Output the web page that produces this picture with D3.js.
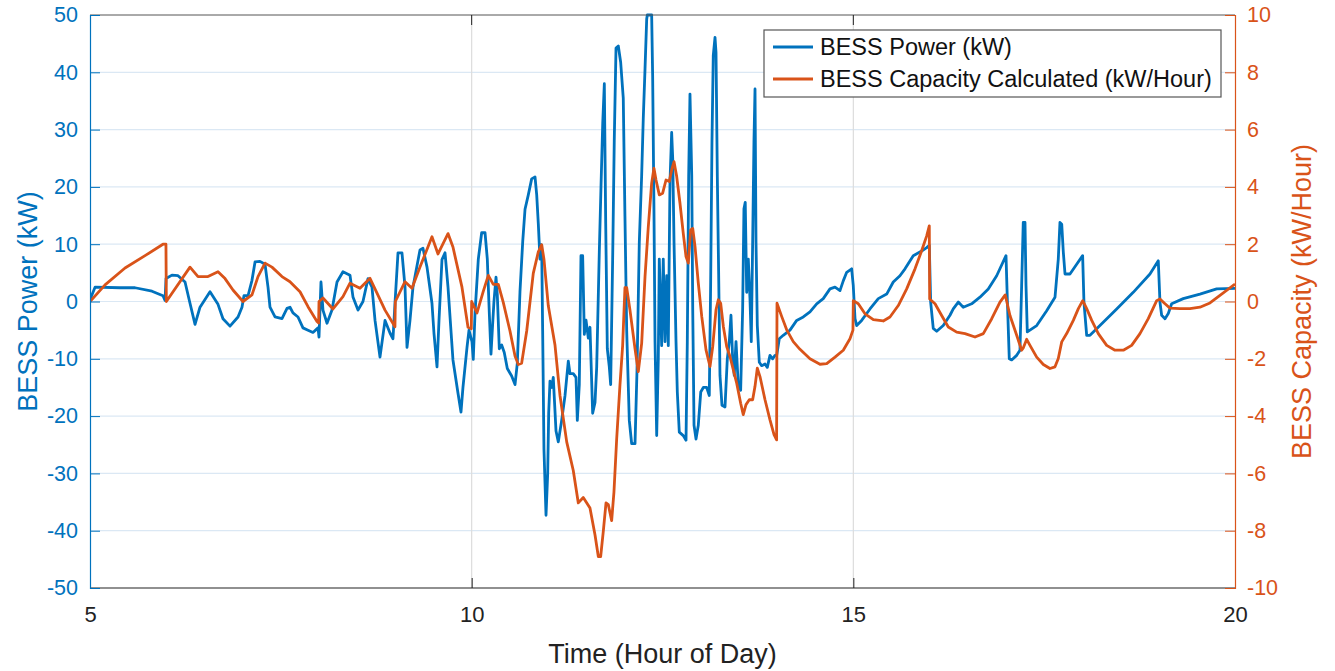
<!DOCTYPE html>
<html>
<head>
<meta charset="utf-8">
<script src="https://cdn.jsdelivr.net/npm/d3@7/dist/d3.min.js"></script>
<style>
  html, body { margin: 0; padding: 0; background: #fff; }
  svg { display: block; font-family: "Liberation Sans", Arial, Helvetica, sans-serif; }
</style>
</head>
<body>
<svg id="chart" width="1335" height="671"></svg>
<script>
// ---- Data ----
const xTicks = [5, 10, 15, 20];
const leftTicks = [-50, -40, -30, -20, -10, 0, 10, 20, 30, 40, 50];
const rightTicks = [-10, -8, -6, -4, -2, 0, 2, 4, 6, 8, 10];
const seriesNames = ["BESS Power (kW)", "BESS Capacity Calculated (kW/Hour)"];

// BESS Power (kW): [hour, kW]
const powerHours = [5.000,5.066,5.393,5.590,5.812,5.956,5.983,5.996,6.074,6.153,6.245,6.310,6.376,6.441,6.572,6.677,6.742,6.834,6.939,6.991,7.017,7.070,7.122,7.162,7.227,7.293,7.332,7.358,7.424,7.515,7.581,7.620,7.659,7.725,7.790,7.856,7.921,7.987,8.000,8.026,8.052,8.105,8.170,8.236,8.314,8.406,8.445,8.511,8.576,8.642,8.694,8.734,8.799,8.865,8.930,8.969,8.996,9.035,9.087,9.127,9.153,9.192,9.231,9.323,9.362,9.415,9.480,9.506,9.546,9.572,9.611,9.651,9.690,9.755,9.821,9.860,9.886,9.939,9.965,10.004,10.021,10.044,10.087,10.131,10.175,10.205,10.231,10.253,10.275,10.292,10.319,10.336,10.362,10.393,10.427,10.467,10.524,10.568,10.598,10.633,10.669,10.699,10.742,10.786,10.830,10.852,10.873,10.895,10.917,10.930,10.947,10.974,10.996,11.009,11.026,11.048,11.069,11.105,11.135,11.179,11.223,11.266,11.288,11.331,11.367,11.384,11.410,11.432,11.454,11.476,11.498,11.528,11.550,11.585,11.616,11.638,11.672,11.694,11.717,11.738,11.756,11.777,11.803,11.821,11.847,11.868,11.891,11.921,11.952,11.986,12.008,12.031,12.065,12.096,12.140,12.166,12.196,12.227,12.248,12.271,12.293,12.301,12.358,12.371,12.388,12.402,12.424,12.445,12.458,12.476,12.489,12.510,12.533,12.555,12.576,12.598,12.620,12.634,12.651,12.677,12.694,12.720,12.772,12.808,12.825,12.843,12.860,12.883,12.896,12.913,12.939,12.969,13.001,13.035,13.079,13.113,13.131,13.148,13.165,13.188,13.201,13.218,13.236,13.253,13.279,13.319,13.349,13.375,13.397,13.419,13.440,13.463,13.493,13.524,13.550,13.567,13.584,13.603,13.624,13.646,13.663,13.681,13.698,13.712,13.725,13.742,13.768,13.799,13.843,13.873,13.908,13.943,13.974,13.996,14.030,14.082,14.170,14.258,14.344,14.432,14.520,14.606,14.694,14.760,14.825,14.868,14.913,14.978,14.999,15.022,15.044,15.109,15.218,15.327,15.437,15.523,15.611,15.677,15.785,15.895,15.961,15.995,16.013,16.047,16.092,16.178,16.266,16.309,16.375,16.440,16.550,16.659,16.768,16.878,17.000,17.017,17.043,17.074,17.140,17.183,17.205,17.226,17.249,17.262,17.279,17.402,17.533,17.642,17.685,17.707,17.730,17.751,17.773,17.838,17.926,18.004,18.021,18.057,18.100,18.231,18.450,18.667,18.886,18.995,19.017,19.039,19.083,19.126,19.170,19.322,19.541,19.760,20.000];
const powerValues = [0.3,2.5,2.4,2.4,1.8,1.0,0.2,4.0,4.6,4.5,3.4,-0.3,-4.0,-1.0,1.7,-0.5,-3.0,-4.3,-2.7,-1.0,1.0,1.0,3.7,6.9,7.0,6.5,2.5,-1.0,-2.7,-3.0,-1.2,-1.0,-2.0,-2.7,-4.6,-5.0,-5.4,-4.6,-6.2,3.4,-1.5,-3.8,-1.5,3.4,5.2,4.6,0.8,-1.5,0,4.0,2.5,-3.3,-9.7,-3.3,-5.5,-6.5,-0.2,8.5,8.5,2.5,-8.0,-3.3,2.5,9.0,9.3,6.0,-0.3,-5.5,-11.4,-3.3,7.3,8.5,2.5,-10.2,-16.0,-19.3,-15.0,-8.0,-5.0,-7.0,-10.1,-2,7.4,12,12,7.4,-2,-9.2,-3.9,0,4.25,1.1,-8.25,-7.6,-8.9,-11.7,-13,-14.5,-10.75,1.75,10.5,16.1,18.6,21.4,21.75,18.6,13.6,7.4,9.9,-5.1,-25.75,-37.3,-30,-19.5,-13.9,-15,-13.25,-22.6,-24.5,-20.75,-16.4,-10.4,-12.6,-12.6,-13.25,-20.75,-14.5,8,8,-5.75,-3.25,-6.4,-4.5,-19.5,-17.6,-11.4,8.6,19.9,31.1,38,13.6,-8.25,-11.4,-14.5,7.4,28,44.25,44.6,41.75,35.5,14.9,-5.1,-20.75,-24.8,-24.8,-12,10.3,22,31.9,40.6,49.3,50,50,39.4,16.2,-7,-23.4,-10,7.4,-1.3,-7.7,7.4,-7,4.5,-7.7,20.8,29.5,24.9,10.3,-7,-15.8,-22.8,-23.4,-24.2,-7,22,36.2,22,-1.3,-21.6,-24,-21.6,-15.8,-15,-15,-16.4,3.4,27.8,42.9,46.1,43.5,22,4.5,-12.9,-18.1,-18.4,-10,-7,-2.4,-10,-12.9,-7,-14.7,-15.5,-1.3,16.2,17.3,1.6,7.4,0.5,-7,10.3,27.8,37.1,10.3,-4.2,-10.6,-11.2,-10.9,-11.5,-9.4,-10,-9.4,-9.4,-6.5,-5.9,-5.0,-3.3,-2.7,-1.8,-0.4,0.5,2.2,2.5,1.9,3.6,5.1,5.7,2.8,-3,-4.2,-3.3,-1.3,0.5,1.3,3.4,4.5,5.7,8,8.8,9.4,9.8,-0.1,-4.7,-5.2,-4.2,-2.4,-1.3,-0.1,-1,-0.4,0.75,2.2,4.5,8,0.5,-10,-10.2,-9.4,-8.5,2.8,13.8,13.8,2.8,-5.3,-4.2,-1.6,0.75,7.4,13.8,13.5,8.6,4.8,4.8,6.5,8,-0.1,-5.9,-5.9,-4.2,-1.3,1.6,4.8,7.1,-0.1,-2.4,-3,-2.1,-0.4,0.5,1.3,2.2,2.3];

// BESS Capacity Calculated (kW/Hour): [hour, value]
const capHours = [5.000,5.197,5.459,5.721,5.956,5.995,6.000,6.310,6.415,6.546,6.677,6.769,6.873,7.004,7.122,7.201,7.293,7.384,7.515,7.620,7.751,7.856,7.974,7.995,8.000,8.052,8.183,8.314,8.406,8.537,8.668,8.760,8.865,8.995,9.000,9.127,9.218,9.323,9.480,9.559,9.690,9.755,9.873,9.952,9.995,10.000,10.070,10.152,10.218,10.283,10.349,10.414,10.502,10.568,10.611,10.655,10.721,10.807,10.873,10.917,10.947,11.004,11.092,11.157,11.245,11.331,11.397,11.462,11.550,11.616,11.659,11.690,11.724,11.760,11.790,11.834,11.864,11.900,11.943,11.978,12.008,12.031,12.074,12.140,12.183,12.227,12.271,12.314,12.358,12.388,12.415,12.458,12.502,12.546,12.589,12.620,12.651,12.686,12.729,12.772,12.808,12.838,12.869,12.896,12.926,12.969,13.014,13.070,13.122,13.158,13.201,13.231,13.262,13.297,13.341,13.384,13.427,13.472,13.524,13.558,13.594,13.637,13.681,13.712,13.742,13.777,13.843,13.908,13.961,13.995,14.000,14.061,14.127,14.213,14.301,14.432,14.563,14.651,14.760,14.868,14.956,14.995,15.000,15.065,15.153,15.262,15.392,15.480,15.589,15.699,15.808,15.895,15.961,15.995,16.000,16.070,16.157,16.244,16.354,16.463,16.594,16.703,16.813,16.921,16.990,17.052,17.140,17.205,17.226,17.271,17.314,17.402,17.489,17.576,17.642,17.685,17.730,17.795,17.882,17.948,18.005,18.057,18.123,18.209,18.319,18.428,18.537,18.646,18.755,18.864,18.974,19.017,19.083,19.148,19.279,19.410,19.541,19.672,19.803,20.000];
const capValues = [0,0.58,1.17,1.6,2.0,2.0,0.0,1.2,0.87,0.87,1.04,0.8,0.4,0.0,0.23,0.87,1.34,1.2,0.87,0.69,0.34,-0.18,-0.7,-0.75,0.0,0.12,-0.26,0.17,0.64,0.46,0.81,0.29,-0.3,-0.88,0.0,0.69,0.46,1.2,2.26,1.66,2.37,1.9,0.5,-0.9,-0.95,0.0,-0.4,0.35,0.91,0.6,0.6,-0.03,-1.03,-1.9,-2.2,-2.15,-1.03,0.98,1.73,1.98,1.48,-0.15,-1.53,-3.28,-4.9,-5.9,-7.03,-6.84,-7.21,-8.15,-8.9,-8.9,-8.03,-7.03,-7.09,-7.65,-6.65,-4.78,-2.9,-1.53,0.48,0.48,-0.3,-1.65,-2.45,-1.46,0.87,2.61,4.13,4.65,4.24,3.72,3.78,4.24,4.19,4.59,4.88,4.36,3.43,2.38,1.57,1.34,2.5,2.55,1.92,0.64,-0.52,-1.69,-2.27,-1.57,-0.29,0.06,-0.06,-0.87,-1.57,-1.92,-2.38,-2.85,-3.55,-3.95,-3.6,-3.43,-3.43,-2.96,-2.33,-2.62,-3.43,-4.13,-4.65,-4.83,-0.06,-0.52,-0.99,-1.4,-1.67,-2.0,-2.19,-2.17,-1.94,-1.7,-1.3,-1.0,0.03,-0.08,-0.43,-0.63,-0.68,-0.54,-0.14,0.44,1.14,1.77,2.29,2.64,0.09,-0.08,-0.49,-0.89,-1.07,-1.12,-1.24,-1.12,-0.6,-0.02,0.23,-0.49,-1.18,-1.7,-1.62,-1.32,-1.53,-1.94,-2.2,-2.34,-2.28,-1.99,-1.41,-1.12,-0.66,-0.25,0.03,-0.25,-0.66,-1.12,-1.53,-1.7,-1.7,-1.53,-1.12,-0.6,0.03,0.09,-0.08,-0.23,-0.25,-0.25,-0.2,-0.05,0.21,0.61];

// ---- Layout ----
const W = 1335, H = 671;
const m = { left: 90, right: 100, top: 15, bottom: 83 };
const blue = "#0072BD", orange = "#D95319";
const plainFmt = d => String(d);

const svg = d3.select("#chart");
const x = d3.scaleLinear().domain([5, 20]).range([m.left, W - m.right]);
const yL = d3.scaleLinear().domain([-50, 50]).range([H - m.bottom, m.top]);
const yR = d3.scaleLinear().domain([-10, 10]).range([H - m.bottom, m.top]);
const x0 = x.range()[0], x1 = x.range()[1], y0 = yL.range()[0], y1 = yL.range()[1];

// grid
const grid = svg.append("g");
grid.selectAll(".hg").data(leftTicks.slice(1, -1)).join("line")
  .attr("x1", x0).attr("x2", x1)
  .attr("y1", d => yL(d)).attr("y2", d => yL(d))
  .attr("stroke", "#dbe8f4").attr("stroke-width", 1.2);
grid.selectAll(".vg").data(xTicks.slice(1, -1)).join("line")
  .attr("x1", d => x(d)).attr("x2", d => x(d))
  .attr("y1", y1).attr("y2", y0)
  .attr("stroke", "#dcdcdc").attr("stroke-width", 1.2);

// clip
svg.append("clipPath").attr("id", "plotclip").append("rect")
  .attr("x", x0).attr("y", y1 - 2).attr("width", x1 - x0).attr("height", y0 - y1 + 4);

const powerData = powerHours.map((h, i) => [h, powerValues[i]]);
const capData = capHours.map((h, i) => [h, capValues[i]]);

const lineL = d3.line().x(d => x(d[0])).y(d => yL(d[1]));
const lineR = d3.line().x(d => x(d[0])).y(d => yR(d[1]));

const plot = svg.append("g").attr("clip-path", "url(#plotclip)");
plot.append("path").datum(powerData).attr("d", lineL)
  .attr("fill", "none").attr("stroke", blue).attr("stroke-width", 2.8)
  .attr("stroke-linejoin", "round");
plot.append("path").datum(capData).attr("d", lineR)
  .attr("fill", "none").attr("stroke", orange).attr("stroke-width", 2.8)
  .attr("stroke-linejoin", "round");

// axes frame
svg.append("line").attr("x1", x0).attr("x2", x1).attr("y1", y1).attr("y2", y1)
  .attr("stroke", "#555").attr("stroke-width", 1);
svg.append("line").attr("x1", x0).attr("x2", x1).attr("y1", y0).attr("y2", y0)
  .attr("stroke", "#222").attr("stroke-width", 1.2);

// bottom axis
const xAxis = d3.axisBottom(x).tickValues(xTicks).tickSize(-10).tickPadding(18)
  .tickFormat(plainFmt);
const gx = svg.append("g").attr("transform", `translate(0,${y0})`).call(xAxis);
gx.select(".domain").remove();
gx.selectAll(".tick line").attr("stroke", "#222");
gx.selectAll(".tick text").attr("font-size", 22).attr("fill", "#222");
// top ticks
svg.selectAll(".topTick").data(xTicks.slice(1, -1)).join("line")
  .attr("x1", d => x(d)).attr("x2", d => x(d)).attr("y1", y1).attr("y2", y1 + 10)
  .attr("stroke", "#222");

// left axis
const yAxisL = d3.axisLeft(yL).tickValues(leftTicks).tickSize(-10).tickPadding(12).tickFormat(plainFmt);
const gl = svg.append("g").attr("transform", `translate(${x0},0)`).call(yAxisL);
gl.select(".domain").attr("stroke", blue).attr("stroke-width", 1.2);
gl.selectAll(".tick line").attr("stroke", blue);
gl.selectAll(".tick text").attr("font-size", 21.5).attr("fill", blue);

// right axis
const yAxisR = d3.axisRight(yR).tickValues(rightTicks).tickSize(-10).tickPadding(12).tickFormat(plainFmt);
const gr = svg.append("g").attr("transform", `translate(${x1},0)`).call(yAxisR);
gr.select(".domain").attr("stroke", orange).attr("stroke-width", 1.2);
gr.selectAll(".tick line").attr("stroke", orange);
gr.selectAll(".tick text").attr("font-size", 21.5).attr("fill", orange);

// axis labels
svg.append("text").attr("x", x((5 + 20) / 2)).attr("y", 663)
  .attr("text-anchor", "middle").attr("font-size", 27).attr("fill", "#222")
  .text("Time (Hour of Day)");
svg.append("text").attr("transform", `translate(37,${yL(0)}) rotate(-90)`)
  .attr("text-anchor", "middle").attr("font-size", 27).attr("fill", blue)
  .text("BESS Power (kW)");
svg.append("text").attr("transform", `translate(1311,${yR(0)}) rotate(-90)`)
  .attr("text-anchor", "middle").attr("font-size", 27).attr("fill", orange)
  .text("BESS Capacity (kW/Hour)");

// legend
const lg = svg.append("g").attr("transform", "translate(764,30)");
lg.append("rect").attr("width", 457).attr("height", 67)
  .attr("fill", "#fff").attr("stroke", "#555").attr("stroke-width", 1.2);
const colors = [blue, orange];
seriesNames.forEach((name, i) => {
  const yy = 17 + i * 32;
  lg.append("line").attr("x1", 9).attr("x2", 49).attr("y1", yy).attr("y2", yy)
    .attr("stroke", colors[i]).attr("stroke-width", 2.8);
  lg.append("text").attr("x", 56).attr("y", yy + 8).attr("font-size", 23.5)
    .attr("fill", "#111").text(name);
});
</script>
</body>
</html>
